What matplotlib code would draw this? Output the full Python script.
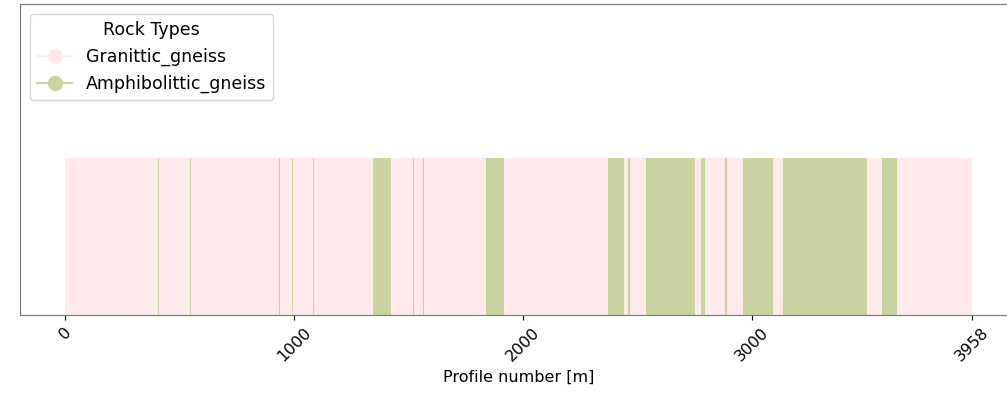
import numpy as np
import matplotlib.pyplot as plt
from matplotlib.lines import Line2D

# Rock type segments along the profile (start, end in m)
seg_starts = [0, 404, 410, 543, 549, 932, 938, 988, 996, 1080, 1086, 1344, 1422, 1517, 1523,
              1560, 1566, 1837, 1916, 2370, 2439, 2459, 2465, 2535, 2749, 2775, 2793, 2882,
              2888, 2958, 3090, 3133, 3500, 3565, 3631]
seg_ends = seg_starts[1:] + [3958]
seg_types = ['Granittic_gneiss', 'Amphibolittic_gneiss'] * 17 + ['Granittic_gneiss']

rock_names = ['Granittic_gneiss', 'Amphibolittic_gneiss']
rock_colors = {'Granittic_gneiss': '#ffe9eb', 'Amphibolittic_gneiss': '#c9d4a1'}

tick_positions = [0, 1000, 2000, 3000, 3958]

fig = plt.figure(figsize=(10.07, 4.05), dpi=100)
ax = fig.add_axes([20 / 1007, 90 / 405, 997 / 1007, 311 / 405])

starts = np.array(seg_starts)
widths = np.array(seg_ends) - starts
colors = [rock_colors[t] for t in seg_types]
ax.bar(starts, np.ones(len(starts)), width=widths, align='edge', color=colors, linewidth=0)

ax.set_xlim(-198, 4156)
ax.set_ylim(0, 1.98)
ax.set_yticks([])
ax.set_xticks(tick_positions)
ax.set_xticklabels([str(t) for t in tick_positions], rotation=45, fontsize=11.5)
ax.set_xlabel('Profile number [m]', fontsize=11.5)
for s in ax.spines.values():
    s.set_color('#777777')

handles = [Line2D([0], [0], marker='o', color=rock_colors[n], markersize=10, label=n)
           for n in rock_names]
ax.legend(handles=handles, title='Rock Types', loc='upper left', fontsize=12.5,
          title_fontsize=12.5, borderaxespad=0.6)

plt.savefig('out.png', dpi=100)
